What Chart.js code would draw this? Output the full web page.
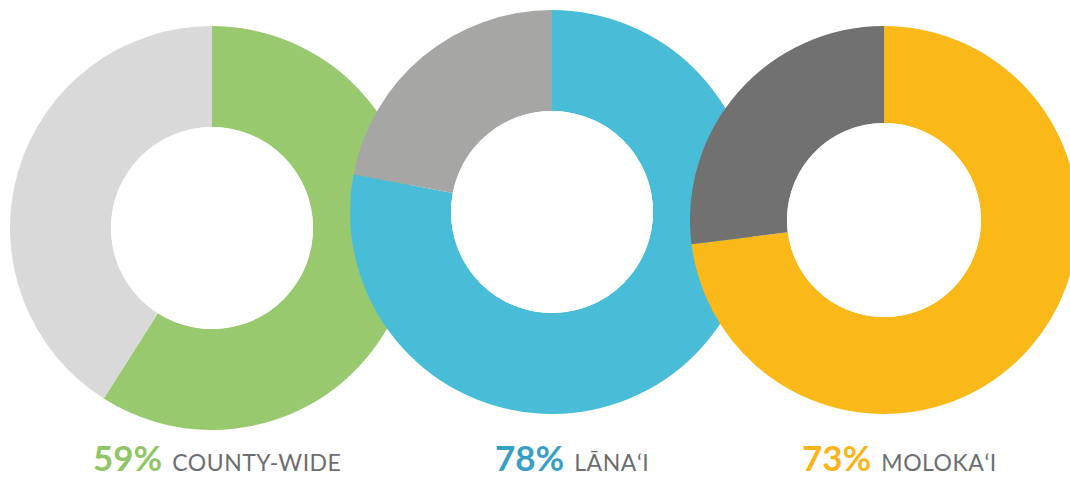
<!DOCTYPE html>
<html>
<head>
<meta charset="utf-8">
<title>Donuts</title>
<script src="https://cdn.jsdelivr.net/npm/chart.js@4.4.0/dist/chart.umd.min.js"></script>
<style>
  html, body { margin: 0; padding: 0; background: #fff; }
  body { width: 1070px; height: 478px; position: relative; overflow: hidden; font-family: Lato, "Open Sans", sans-serif; }
  canvas { position: absolute; }
  .lbl { position: absolute; top: 437px; white-space: nowrap; line-height: 40px; }
  .lbl b { font-size: 35px; font-weight: 700; }
  .lbl span { font-size: 23px; color: #6d6e71; margin-left: 10px; letter-spacing: 0.5px; }
</style>
</head>
<body>

<script>
// region names and share of yes answers
var regions = ['COUNTY-WIDE', 'LĀNAʻI', 'MOLOKAʻI'];
var shares = [59, 78, 73];

var mainColors = ['#99c96f', '#49bcd8', '#fab919'];
var restColors = ['#d9d9d9', '#a6a6a5', '#717171'];
var textColors = ['#92c567', '#3a9fc4', '#fbb41a'];

// ring boxes: left, top, size (later rings sit on top of earlier ones)
var boxes = [[10, 26, 404], [350, 10, 404], [690, 26, 388]];
var labelX = [93, 495, 802];

for (var i = 0; i < regions.length; i++) {
    var c = document.createElement('canvas');
    c.width = boxes[i][2];
    c.height = boxes[i][2];
    c.style.left = boxes[i][0] + 'px';
    c.style.top = boxes[i][1] + 'px';
    document.body.appendChild(c);

    new Chart(c, {
        type: 'doughnut',
        data: {
            labels: [regions[i], ''],
            datasets: [{
                data: [shares[i], 100 - shares[i]],
                backgroundColor: [mainColors[i], restColors[i]],
                borderWidth: 0
            }]
        },
        options: {
            responsive: false,
            animation: false,
            cutout: '50%',
            layout: { padding: 0 },
            events: [],
            plugins: { legend: { display: false }, tooltip: { enabled: false } }
        },
        plugins: [{
            // white hole so rings behind don't show through
            id: 'hole',
            afterDatasetsDraw: function(chart) {
                var arc = chart.getDatasetMeta(0).data[0];
                var ctx = chart.ctx;
                ctx.save();
                ctx.fillStyle = '#fff';
                ctx.beginPath();
                ctx.arc(arc.x, arc.y, arc.innerRadius, 0, Math.PI * 2);
                ctx.fill();
                ctx.restore();
            }
        }]
    });

    var d = document.createElement('div');
    d.className = 'lbl';
    d.style.left = labelX[i] + 'px';
    d.innerHTML = '<b style="color:' + textColors[i] + '">' + shares[i] + '%</b><span>' + regions[i] + '</span>';
    document.body.appendChild(d);
}
</script>
</body>
</html>
